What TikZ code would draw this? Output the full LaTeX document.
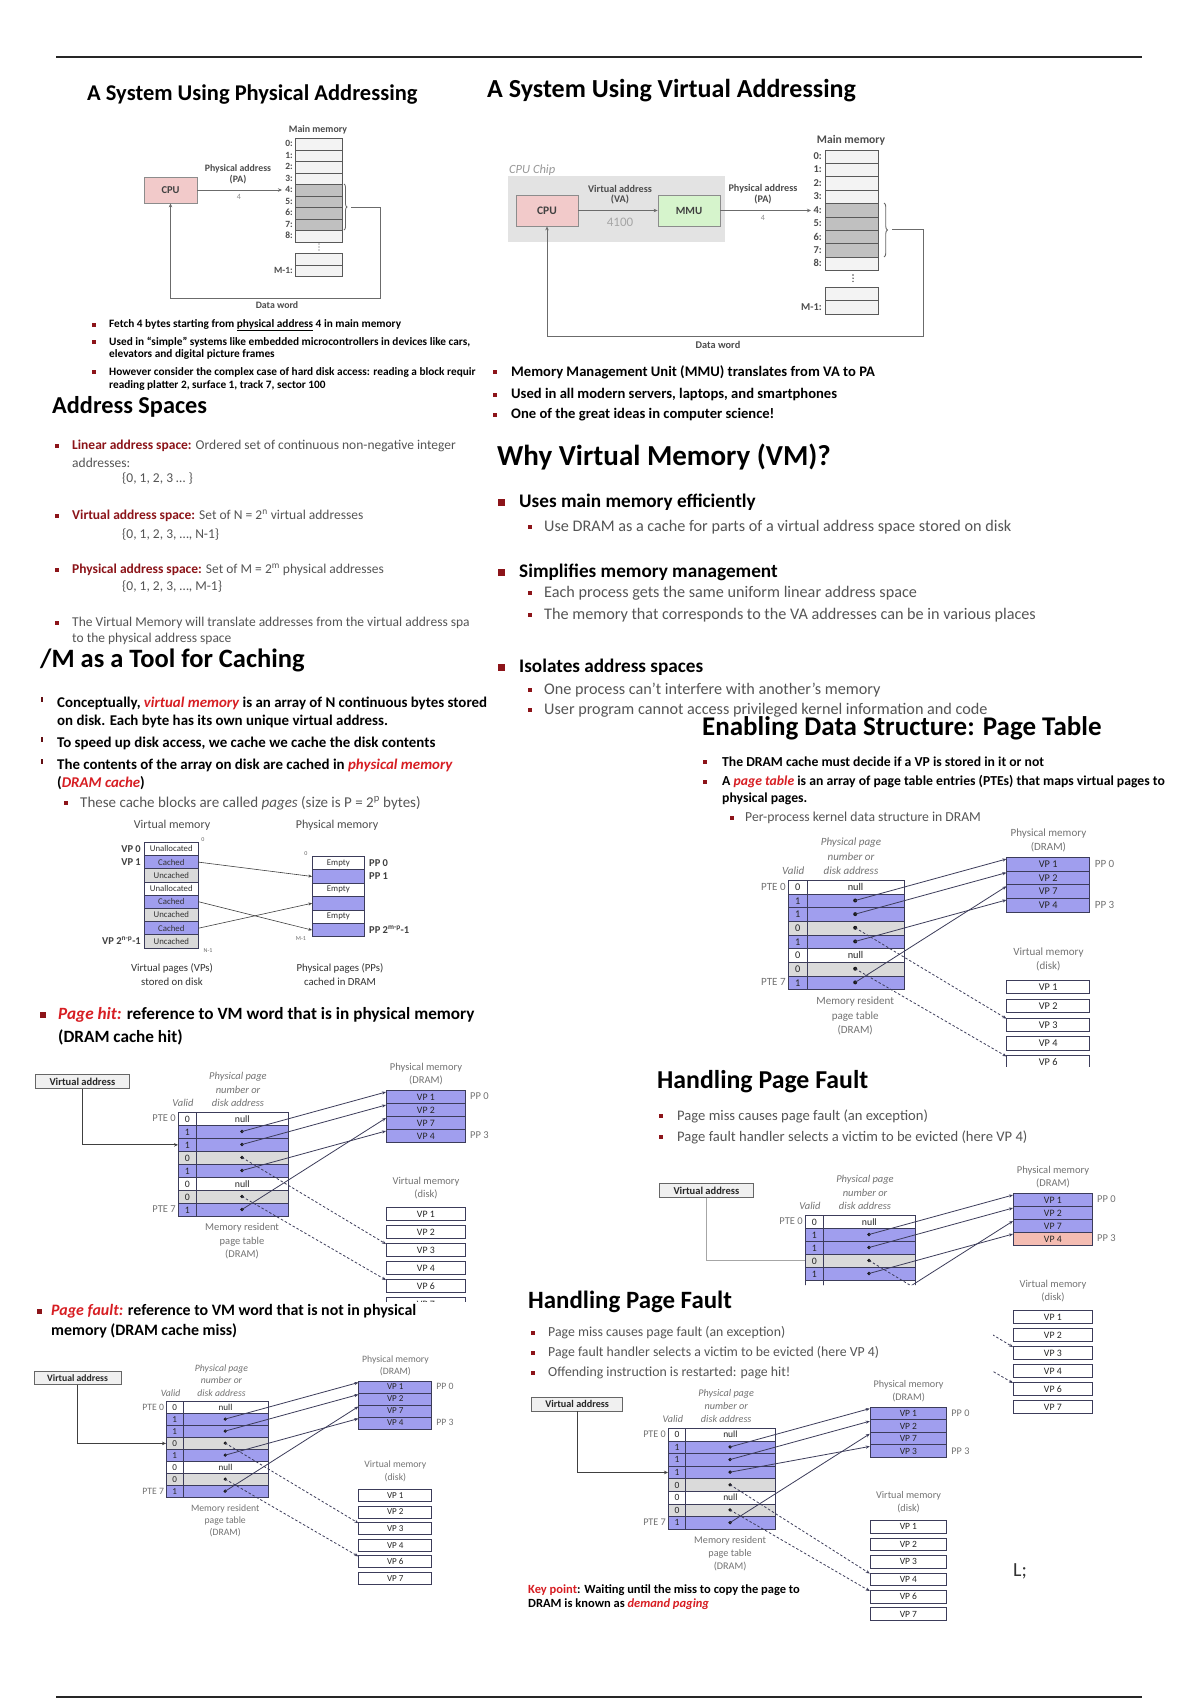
\documentclass[tikz,border=0pt]{standalone}
\usepackage{fontspec}
\setmainfont{Carlito}
\usetikzlibrary{arrows.meta,decorations.pathreplacing}
\definecolor{dred}{RGB}{140,20,25}
\definecolor{hred}{RGB}{215,30,35}
\definecolor{txtgray}{RGB}{85,85,85}
\definecolor{lblgray}{RGB}{115,115,115}
\definecolor{ptpurple}{RGB}{160,158,238}
\definecolor{ptgray}{RGB}{218,218,218}
\definecolor{ptpink}{RGB}{244,188,178}
\definecolor{ptborder}{RGB}{60,60,90}
\definecolor{cpupink}{RGB}{242,202,202}
\definecolor{mmugreen}{RGB}{214,244,204}
\definecolor{memlight}{RGB}{243,243,243}
\definecolor{memdark}{RGB}{192,192,192}
\newcommand\fs[1]{\fontsize{#1pt}{#1pt}\selectfont}
\newcount\txtn
\newcommand\tx[3][]{\global\advance\txtn by 1\relax\node[txt,#1] (t\the\txtn) at (#2) {#3};}
\newcommand\bsq[3]{\fill[dred] ({#1-#3/2},{#2-#3/2}) rectangle ({#1+#3/2},{#2+#3/2});}
\newcommand\tick[2]{\fill[dred!70!black] ({#1-0.8},{#2-6}) rectangle ({#1+0.8},{#2-1.5});}
\newif\ifptfull \ptfulltrue
% page table diagram: #1 prefix, #2 rows, #3 dots, #4 pm, #5 solid, #6 dashed, #7 disk cells
\newcommand\ptdiag[7]{%
  \foreach \ri/\rf/\rv/\rt in #2{%
    \node[ptcell,fill=\rf,minimum width=18pt] (#1v\ri) at (0,{13*\ri}) {\rv};
    \node[ptcell,fill=\rf,minimum width=92pt] (#1a\ri) at (18,{13*\ri}) {\rt};
  }
  \foreach \ri in #3{\node[ptdot] (#1d\ri) at (64,{13*\ri+6.5}) {};}
  \foreach \ri/\rf/\rt in #4{\node[ptcell,fill=\rf,minimum width=79pt] (#1p\ri) at (208,{-22+13*\ri}) {\rt};}
  \foreach \ri/\rt in #7{\node[ptcell,fill=white,minimum width=79pt] (#1k\ri) at (208,{95+18*\ri}) {\rt};}
  \node[ptlbl,anchor=east] (#1pte0) at (-2,6.5) {PTE 0};
  \ifptfull
  \node[ptlbl,anchor=east] (#1pte7) at (-2,97.5) {PTE 7};
  \node[ptlbl] (#1mr) at (64,129.5) {Memory resident\\page table\\(DRAM)};
  \fi
  \node[ptlbl,font=\fontsize{10.5pt}{13.5pt}\selectfont\itshape] (#1valid) at (5,-9) {Valid};
  \node[ptlbl,font=\fontsize{10.5pt}{13.5pt}\selectfont\itshape] (#1hdr) at (60,-22.5) {Physical page\\number or\\disk address};
  \node[ptlbl] (#1pml) at (248,-38) {Physical memory\\(DRAM)};
  \node[ptlbl] (#1dkl) at (248,76) {Virtual memory\\(disk)};
  \node[ptlbl,anchor=west] (#1pp0) at (292,-15.5) {PP 0};
  \node[ptlbl,anchor=west] (#1pp3) at (292,23.5) {PP 3};
  \foreach \ra/\rb in #5{\draw[ptarrow] (#1d\ra.center) -- ([yshift=-2pt]#1p\rb.north west);}
  \foreach \ra/\rb in #6{\draw[ptarrow,dash pattern=on 2.5pt off 2pt] (#1d\ra.center) -- ([yshift=-1pt]#1k\rb.north west);}
}
\def\rowsA{0/white/0/null,1/ptpurple/1/{},2/ptpurple/1/{},3/ptgray/0/{},4/ptpurple/1/{},5/white/0/null,6/ptgray/0/{},7/ptpurple/1/{}}
\def\rowsAcut{0/white/0/null,1/ptpurple/1/{},2/ptpurple/1/{},3/ptgray/0/{},4/ptpurple/1/{},5/white/{}/{},6/ptgray/{}/{},7/ptpurple/{}/{}}
\def\rowsC{0/white/0/null,1/ptpurple/1/{},2/ptpurple/1/{},3/ptpurple/1/{},4/ptgray/0/{},5/white/0/null,6/ptgray/0/{},7/ptpurple/1/{}}
\def\dotsAll{1,2,3,4,6,7}
\def\pmA{0/ptpurple/VP 1,1/ptpurple/VP 2,2/ptpurple/VP 7,3/ptpurple/VP 4}
\def\pmB{0/ptpurple/VP 1,1/ptpurple/VP 2,2/ptpurple/VP 7,3/ptpink/VP 4}
\def\pmC{0/ptpurple/VP 1,1/ptpurple/VP 2,2/ptpurple/VP 7,3/ptpurple/VP 3}
\def\solA{1/0,2/1,4/3,7/2}
\def\dashA{3/2,6/4}
\def\solC{1/0,2/1,3/3,7/2}
\def\dashC{4/3,6/4}
\def\diskAll{0/VP 1,1/VP 2,2/VP 3,3/VP 4,4/VP 6,5/VP 7}
\def\diskFive{0/VP 1,1/VP 2,2/VP 3,3/VP 4,4/VP 6}
\begin{document}
\begin{tikzpicture}[x=1pt,y=-1pt,
  txt/.style={anchor=west,inner sep=0pt,text=black},
  memA/.style={draw=black!65,line width=0.8pt,anchor=north west,inner sep=0pt,minimum width=47pt,minimum height=11.5pt},
  memB/.style={draw=black!65,line width=0.9pt,anchor=north west,inner sep=0pt,minimum width=53pt,minimum height=13.4pt},
  lblA/.style={anchor=east,inner sep=0pt,font=\fs{9.5}\bfseries,text=black!70},
  lblB/.style={anchor=east,inner sep=0pt,font=\fs{10.5}\bfseries,text=black!70},
  cpubox/.style={draw=black!45,line width=0.8pt,fill=cpupink,inner sep=0pt,text=black!75},
  mmubox/.style={draw=black!45,line width=0.8pt,fill=mmugreen,inner sep=0pt,text=black!75},
  dwline/.style={draw=black!58,line width=1pt},
  tipA/.style={-{Stealth[length=4pt,width=3.5pt]}},
  cmcell/.style={draw=ptborder,line width=0.7pt,anchor=north west,inner sep=0pt,minimum height=13.2pt,font=\fs{8.8},text=black!80},
  carrow/.style={draw=black!75,line width=0.6pt,-{Stealth[length=3.5pt,width=3pt]}},
  ptcell/.style={draw=ptborder,line width=0.7pt,anchor=north west,inner sep=0pt,minimum height=13pt,font=\fs{9.8},text=black!85},
  ptdot/.style={circle,fill=black!90,inner sep=0pt,minimum size=3.8pt},
  ptlbl/.style={inner sep=0pt,font=\fontsize{10.5pt}{13.5pt}\selectfont,text=lblgray,align=center},
  ptarrow/.style={draw=ptborder,line width=0.8pt,-{Stealth[length=4pt,width=3.2pt]}},
  vabox/.style={draw=black!60,fill=black!6,line width=0.7pt,anchor=north west,inner sep=0pt,minimum width=94pt,minimum height=14pt,font=\fs{10.5}\bfseries,text=black!85},
  valine/.style={draw=black!75,line width=1pt}
]
\useasboundingbox (0,0) rectangle (1200,1700);
\fill[white] (0,0) rectangle (1200,1700);
% frame rules
\draw[line width=2.5pt,black!85] (56,57) -- (1142,57);
\draw[line width=2pt,black!85] (56,1697) -- (1142,1697);

% ===== Section 1: physical addressing
\tx[font=\fs{22.5}\bfseries]{87,95}{A System Using Physical Addressing}
\tx[anchor=center,font=\fs{9.9}\bfseries,text=black!70]{318,130}{Main memory}
\foreach \i/\f in {0/memlight,1/memlight,2/memlight,3/memlight,4/memdark,5/memdark,6/memdark,7/memdark,8/memlight}{
  \node[memA,fill=\f] (ma\i) at (295,{138+11.5*\i}) {};
  \node[lblA] (mal\i) at (293,{143.75+11.5*\i}) {\i:};
}
\node[memA,fill=memlight] (maM0) at (295,253) {};
\node[memA,fill=memlight] (maM1) at (295,264.5) {};
\node[lblA] (malM) at (293,270.25) {M-1:};
\foreach \k in {0,1,2}{\fill[black!70] (319,{244+3*\k}) circle (0.7);}
\draw[decorate,decoration={brace,amplitude=3pt},line width=0.8pt,black!60] (344,184) -- (344,230);
\node[cpubox,minimum width=53pt,minimum height=26pt,font=\fs{10.5}\bfseries] (cpu1) at (170.5,190) {CPU};
\coordinate (pa1) at (282,190);
\draw[dwline,tipA] (cpu1.east) -- (pa1);
\coordinate (dw1) at (351,207);
\draw[dwline,tipA] (dw1) -- (380,207) -- (380,298) -| (cpu1.south);
\tx[anchor=center,font=\fs{9.8}\bfseries,text=black!70]{277,305}{Data word}
\tx[anchor=center,font=\fs{9.8}\bfseries,text=black!70]{238,169}{Physical address}
\tx[anchor=center,font=\fs{9.8}\bfseries,text=black!70]{238,180}{(PA)}
\tx[anchor=center,font=\fs{8},text=black!45]{239,197}{4}
\bsq{94}{325}{3.5}\bsq{94}{342}{3.5}\bsq{94}{372}{3.5}
\tx[font=\fs{11.3}\bfseries]{109,325}{Fetch 4 bytes starting from \underline{physical address} 4 in main memory}
\tx[font=\fs{11.3}\bfseries]{109,342}{Used in “simple” systems like embedded microcontrollers in devices like cars,}
\tx[font=\fs{11.3}\bfseries]{109,354}{elevators and digital picture frames}
\tx[font=\fs{11.3}\bfseries]{109,372}{However consider the complex case of hard disk access: reading a block requir}
\tx[font=\fs{11.3}\bfseries]{109,385}{reading platter 2, surface 1, track 7, sector 100}

% ===== Section 2: virtual addressing
\tx[font=\fs{26}\bfseries]{487,91}{A System Using Virtual Addressing}
\tx[font=\fs{12.5}\itshape,text=black!40]{509,170}{CPU Chip}
\fill[black!11] (508,176) rectangle (725,242);
\node[cpubox,minimum width=62pt,minimum height=31pt,font=\fs{11.5}\bfseries] (cpu2) at (547,210.5) {CPU};
\node[mmubox,minimum width=62pt,minimum height=31pt,font=\fs{11}\bfseries] (mmu2) at (689,210.5) {MMU};
\draw[dwline,tipA] (cpu2.east) -- (mmu2.west);
\tx[anchor=center,font=\fs{10.2}\bfseries,text=black!70]{620,189}{Virtual address}
\tx[anchor=center,font=\fs{10.2}\bfseries,text=black!70]{620,199}{(VA)}
\tx[anchor=center,font=\fs{13},text=black!35]{620,222}{4100}
\coordinate (pa2) at (811,210.5);
\draw[dwline,tipA] (mmu2.east) -- (pa2);
\tx[anchor=center,font=\fs{10.2}\bfseries,text=black!70]{763,189}{Physical address}
\tx[anchor=center,font=\fs{10.2}\bfseries,text=black!70]{763,199}{(PA)}
\tx[anchor=center,font=\fs{8},text=black!45]{763,218}{4}
\tx[anchor=center,font=\fs{11.6}\bfseries,text=black!70]{851,140}{Main memory}
\foreach \i/\f in {0/memlight,1/memlight,2/memlight,3/memlight,4/memdark,5/memdark,6/memdark,7/memdark,8/memlight}{
  \node[memB,fill=\f] (mb\i) at (825,{149.5+13.4*\i}) {};
  \node[lblB] (mbl\i) at (822,{156.2+13.4*\i}) {\i:};
}
\node[memB,fill=memlight] (mbM0) at (825,287) {};
\node[memB,fill=memlight] (mbM1) at (825,300.4) {};
\node[lblB] (mblM) at (822,307.1) {M-1:};
\foreach \k in {0,1,2}{\fill[black!70] (853,{275+3.2*\k}) circle (0.8);}
\draw[decorate,decoration={brace,amplitude=3.5pt},line width=0.9pt,black!60] (884,203) -- (884,257);
\coordinate (dw2) at (892,229.5);
\draw[dwline,tipA] (dw2) -- (923,229.5) -- (923,336) -| (cpu2.south);
\tx[anchor=center,font=\fs{10.3}\bfseries,text=black!70]{718,345}{Data word}
\bsq{495}{372}{4.5}\bsq{495}{395}{4.5}\bsq{495}{415}{4.5}
\tx[font=\fs{14.6}\bfseries]{511,372}{Memory Management Unit (MMU) translates from VA to PA}
\tx[font=\fs{14.6}\bfseries]{511,395}{Used in all modern servers, laptops, and smartphones}
\tx[font=\fs{14.6}\bfseries]{511,415}{One of the great ideas in computer science!}

% ===== Section 3: address spaces
\tx[font=\fs{24.3}\bfseries]{52,407}{Address Spaces}
\bsq{57}{446}{4}\bsq{57}{516}{4}\bsq{57}{570}{4}\bsq{57}{623}{4}
\tx[font=\fs{13.5},text=txtgray]{72,446}{{\bfseries\color{dred}Linear address space:} Ordered set of continuous non-negative integer}
\tx[font=\fs{13.5},text=txtgray]{72,463}{addresses:}
\tx[font=\fs{13.5},text=txtgray]{122,479}{\{0, 1, 2, 3 … \}}
\tx[font=\fs{13.5},text=txtgray]{72,516}{{\bfseries\color{dred}Virtual address space:} Set of N = 2\textsuperscript{n} virtual addresses}
\tx[font=\fs{13.5},text=txtgray]{122,535}{\{0, 1, 2, 3, …, N-1\}}
\tx[font=\fs{13.5},text=txtgray]{72,570}{{\bfseries\color{dred}Physical address space:} Set of M = 2\textsuperscript{m} physical addresses}
\tx[font=\fs{13.5},text=txtgray]{122,587}{\{0, 1, 2, 3, …, M-1\}}
\tx[font=\fs{13.5},text=txtgray]{72,623}{The Virtual Memory will translate addresses from the virtual address spa}
\tx[font=\fs{13.5},text=txtgray]{72,639}{to the physical address space}

% ===== Section 4: why VM
\tx[font=\fs{29}\bfseries]{497,457}{Why Virtual Memory (VM)?}
\bsq{501}{502}{7}\bsq{501}{572}{7}\bsq{501}{667}{7}
\bsq{530}{527}{4}\bsq{530}{593}{4}\bsq{530}{615}{4}\bsq{530}{690}{4}\bsq{530}{710}{4}
\tx[font=\fs{19.2}\bfseries]{519,502}{Uses main memory efficiently}
\tx[font=\fs{16.2},text=txtgray]{544,527}{Use DRAM as a cache for parts of a virtual address space stored on disk}
\tx[font=\fs{19.2}\bfseries]{519,572}{Simplifies memory management}
\tx[font=\fs{16.2},text=txtgray]{544,593}{Each process gets the same uniform linear address space}
\tx[font=\fs{16.2},text=txtgray]{544,615}{The memory that corresponds to the VA addresses can be in various places}
\tx[font=\fs{19.2}\bfseries]{519,667}{Isolates address spaces}
\tx[font=\fs{16.2},text=txtgray]{544,690}{One process can’t interfere with another’s memory}
\tx[font=\fs{16.2},text=txtgray]{544,710}{User program cannot access privileged kernel information and code}

% ===== Section 5: caching
\tx[font=\fs{26.5}\bfseries]{40,660}{/M as a Tool for Caching}
\tick{42}{703}\tick{42}{743}\tick{42}{765}
\tx[font=\fs{14.9}\bfseries]{57,703}{Conceptually, {\color{hred}\itshape virtual memory} is an array of N continuous bytes stored}
\tx[font=\fs{14.9}\bfseries]{57,721}{on disk. Each byte has its own unique virtual address.}
\tx[font=\fs{14.9}\bfseries]{57,743}{To speed up disk access, we cache we cache the disk contents}
\tx[font=\fs{14.9}\bfseries]{57,765}{The contents of the array on disk are cached in {\color{hred}\itshape physical memory}}
\tx[font=\fs{14.9}\bfseries]{57,783}{({\color{hred}\itshape DRAM cache})}
\bsq{66}{803}{3.5}
\tx[font=\fs{15},text=txtgray]{80,803}{These cache blocks are called {\itshape pages} (size is P = 2\textsuperscript{p} bytes)}
\tx[anchor=center,font=\fs{12},text=black!70]{172,825}{Virtual memory}
\tx[anchor=center,font=\fs{12},text=black!70]{337,825}{Physical memory}
\foreach \i/\f/\t in {0/white/Unallocated,1/ptpurple/Cached,2/ptgray/Uncached,3/white/Unallocated,4/ptpurple/Cached,5/ptgray/Uncached,6/ptpurple/Cached,7/ptgray/Uncached}{
  \node[cmcell,fill=\f,minimum width=54pt] (cv\i) at (144,{842+13.2*\i}) {\t};
}
\foreach \i/\f/\t in {0/white/Empty,1/ptpurple/{},2/white/Empty,3/ptpurple/{},4/white/Empty,5/ptpurple/{}}{
  \node[cmcell,fill=\f,minimum width=52pt,minimum height=13.4pt] (cp\i) at (312,{856+13.4*\i}) {\t};
}
\tx[anchor=east,font=\fs{10.5}\bfseries,text=black!75]{141,848.6}{VP 0}
\tx[anchor=east,font=\fs{10.5}\bfseries,text=black!75]{141,861.8}{VP 1}
\tx[anchor=east,font=\fs{10.5}\bfseries,text=black!75]{141,941}{VP 2\textsuperscript{n-p}-1}
\tx[font=\fs{10.5}\bfseries,text=black!75]{369,862.7}{PP 0}
\tx[font=\fs{10.5}\bfseries,text=black!75]{369,876.1}{PP 1}
\tx[font=\fs{10.5}\bfseries,text=black!75]{369,929.7}{PP 2\textsuperscript{m-p}-1}
\tx[anchor=center,font=\fs{6},text=black!60]{203,840}{0}
\tx[anchor=center,font=\fs{6},text=black!60]{208,951}{N-1}
\tx[anchor=center,font=\fs{6},text=black!60]{306,854}{0}
\tx[anchor=center,font=\fs{6},text=black!60]{301,939}{M-1}
\draw[carrow] (cv1.east) -- (cp1.west);
\draw[carrow] (cv4.east) -- (cp5.west);
\draw[carrow] (cv6.east) -- (cp3.west);
\tx[anchor=center,font=\fs{10.8},text=black!80]{172,968}{Virtual pages (VPs)}
\tx[anchor=center,font=\fs{10.8},text=black!80]{172,982}{stored on disk}
\tx[anchor=center,font=\fs{10.8},text=black!80]{340,968}{Physical pages (PPs)}
\tx[anchor=center,font=\fs{10.8},text=black!80]{340,982}{cached in DRAM}

% ===== Section 6: enabling data structure
\tx[font=\fs{27}\bfseries]{702,728}{Enabling Data Structure: Page Table}
\bsq{705}{762}{4}\bsq{705}{782}{4}\bsq{732}{818}{3.5}
\tx[font=\fs{13.7}\bfseries]{722,762}{The DRAM cache must decide if a VP is stored in it or not}
\tx[font=\fs{13.7}\bfseries]{722,782}{A {\color{hred}\itshape page table} is an array of page table entries (PTEs) that maps virtual pages to}
\tx[font=\fs{13.7}\bfseries]{722,799}{physical pages.}
\tx[font=\fs{13.7},text=txtgray]{745,818}{Per-process kernel data structure in DRAM}
\begin{scope}
\clip (680,820) rectangle (1190,1066);
\begin{scope}[shift={(788,880)},scale=1.05,transform shape]
\ptdiag{e}{\rowsA}{\dotsAll}{\pmA}{\solA}{\dashA}{\diskFive}
\end{scope}
\end{scope}

% ===== Section 7: page hit
\bsq{43}{1015}{6}
\tx[font=\fs{17.2}\bfseries]{58,1015}{{\color{hred}\itshape Page hit:} reference to VM word that is in physical memory}
\tx[font=\fs{17.2}\bfseries]{58,1037}{(DRAM cache hit)}
\begin{scope}
\clip (20,1045) rectangle (520,1301);
\begin{scope}[shift={(178,1112)},transform shape]
\ptdiag{h}{\rowsA}{\dotsAll}{\pmA}{\solA}{\dashA}{\diskAll}
\node[vabox] (hva) at (-143,-38) {Virtual address};
\draw[valine,tipA] (hva.south) |- (hv2.west);
\end{scope}
\end{scope}

% ===== Section 8: page fault
\bsq{39}{1311}{5}
\tx[font=\fs{15.9}\bfseries]{51,1311}{{\color{hred}\itshape Page fault:} reference to VM word that is not in physical}
\tx[font=\fs{15.9}\bfseries]{51,1331}{memory (DRAM cache miss)}
\begin{scope}[shift={(166,1401)},scale=0.925,transform shape]
\ptdiag{f}{\rowsA}{\dotsAll}{\pmA}{\solA}{\dashA}{\diskAll}
\node[vabox] (fva) at (-143,-32) {Virtual address};
\draw[valine,tipA] (fva.south) |- (fv3.west);
\end{scope}

% ===== Section 9: handling page fault (1)
\tx[font=\fs{25.8}\bfseries]{657,1082}{Handling Page Fault}
\bsq{661}{1116}{4.5}\bsq{661}{1137}{4.5}
\tx[font=\fs{14.6},text=txtgray]{677,1116}{Page miss causes page fault (an exception)}
\tx[font=\fs{14.6},text=txtgray]{677,1137}{Page fault handler selects a victim to be evicted (here VP 4)}
\begin{scope}
\clip (600,1150) rectangle (1200,1285) (993,1284) rectangle (1200,1690);
\begin{scope}[shift={(805,1215)},transform shape]
\ptfullfalse
\ptdiag{g}{\rowsAcut}{\dotsAll}{\pmB}{\solA}{\dashA}{\diskAll}
\node[vabox] (gva) at (-146,-32) {Virtual address};
\draw[valine,black!35] (gva.south) |- (gv3.west);
\end{scope}
\end{scope}
\ptfulltrue

% ===== Section 10: handling page fault (2)
\tx[font=\fs{24.9}\bfseries]{528,1302}{Handling Page Fault}
\bsq{533}{1333}{4.5}\bsq{533}{1353}{4.5}\bsq{533}{1373}{4.5}
\tx[font=\fs{13.8},text=txtgray]{548,1333}{Page miss causes page fault (an exception)}
\tx[font=\fs{13.8},text=txtgray]{548,1353}{Page fault handler selects a victim to be evicted (here VP 4)}
\tx[font=\fs{13.8},text=txtgray]{548,1373}{Offending instruction is restarted: page hit!}
\begin{scope}[shift={(668,1428)},scale=0.97,transform shape]
\ptdiag{k}{\rowsC}{\dotsAll}{\pmC}{\solC}{\dashC}{\diskAll}
\node[vabox] (kva) at (-141,-32) {Virtual address};
\draw[valine,tipA] (kva.south) |- (kv3.west);
\end{scope}
\tx[font=\fs{12.5}\bfseries]{528,1590}{{\color{hred}Key point}: Waiting until the miss to copy the page to}
\tx[font=\fs{12.5}\bfseries]{528,1604}{DRAM is known as {\color{hred}\itshape demand paging}}
\tx[font=\fs{20},text=black!80]{1013,1571}{L;}
\end{tikzpicture}
\end{document}
